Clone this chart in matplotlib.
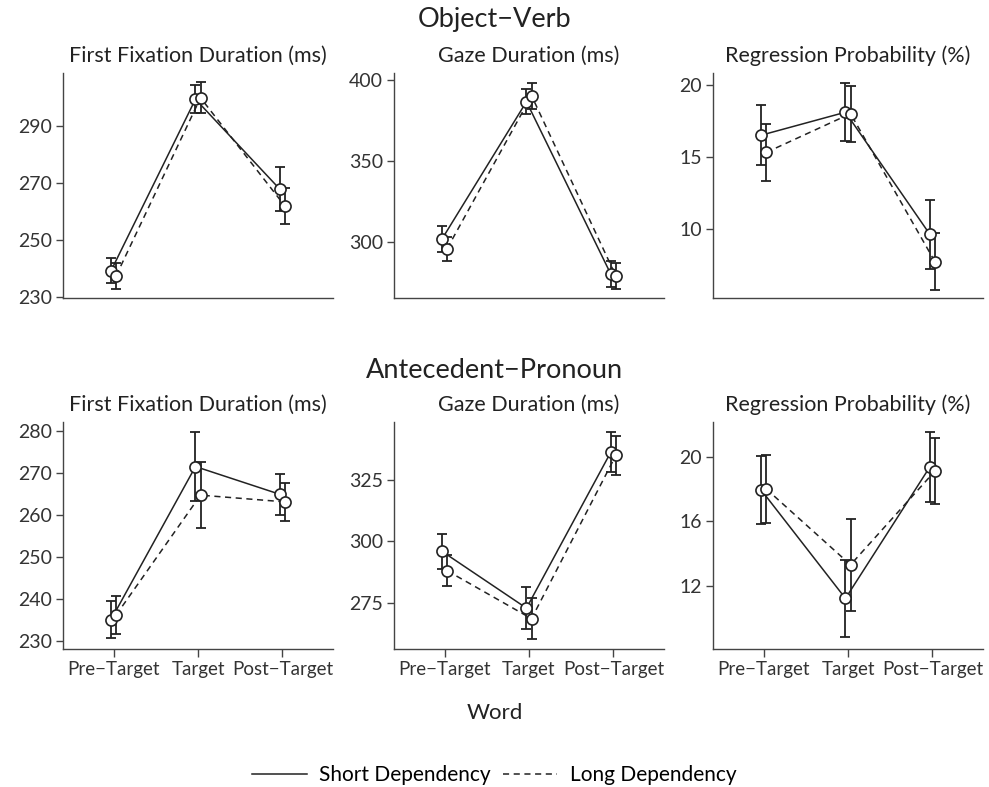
import numpy as np
import matplotlib
matplotlib.use("Agg")
import matplotlib.pyplot as plt
from matplotlib.lines import Line2D

plt.rcParams['font.family'] = ['Lato', 'DejaVu Sans']

words = ['Pre\u2212Target', 'Target', 'Post\u2212Target']
measures = ['First Fixation Duration (ms)', 'Gaze Duration (ms)', 'Regression Probability (%)']
groups = ['Object\u2212Verb', 'Antecedent\u2212Pronoun']

# Object-Verb: means and standard errors (short / long dependency)
ov_ffd_short = [239.1, 299.3, 267.7]
ov_ffd_short_se = [4.4, 5.0, 7.7]
ov_ffd_long = [237.3, 299.8, 261.8]
ov_ffd_long_se = [4.6, 5.4, 6.3]

ov_gd_short = [301.9, 386.6, 280.1]
ov_gd_short_se = [8.0, 7.7, 8.0]
ov_gd_long = [295.9, 390.3, 279.0]
ov_gd_long_se = [7.4, 8.0, 7.8]

ov_rp_short = [16.5, 18.1, 9.6]
ov_rp_short_se = [2.1, 2.0, 2.4]
ov_rp_long = [15.3, 18.0, 7.7]
ov_rp_long_se = [2.0, 1.95, 2.0]

# Antecedent-Pronoun
ap_ffd_short = [235.1, 271.5, 264.9]
ap_ffd_short_se = [4.5, 8.3, 4.9]
ap_ffd_long = [236.2, 264.7, 263.1]
ap_ffd_long_se = [4.5, 7.8, 4.6]

ap_gd_short = [295.9, 272.7, 336.5]
ap_gd_short_se = [7.1, 8.6, 8.2]
ap_gd_long = [288.0, 268.4, 335.2]
ap_gd_long_se = [6.4, 8.3, 7.9]

ap_rp_short = [17.94, 11.22, 19.36]
ap_rp_short_se = [2.1, 2.4, 2.15]
ap_rp_long = [18.0, 13.3, 19.1]
ap_rp_long_se = [2.1, 2.85, 2.05]

panels = [
    [(ov_ffd_short, ov_ffd_short_se, ov_ffd_long, ov_ffd_long_se),
     (ov_gd_short, ov_gd_short_se, ov_gd_long, ov_gd_long_se),
     (ov_rp_short, ov_rp_short_se, ov_rp_long, ov_rp_long_se)],
    [(ap_ffd_short, ap_ffd_short_se, ap_ffd_long, ap_ffd_long_se),
     (ap_gd_short, ap_gd_short_se, ap_gd_long, ap_gd_long_se),
     (ap_rp_short, ap_rp_short_se, ap_rp_long, ap_rp_long_se)],
]
yticks = [[[230, 250, 270, 290], [300, 350, 400], [10, 15, 20]],
          [[230, 240, 250, 260, 270, 280], [275, 300, 325], [12, 16, 20]]]
ylims = [[(229.5, 308.5), (265.4, 404.3), (5.17, 20.83)],
         [(228.1, 282.1), (256.0, 348.8), (8.09, 22.14)]]

W, H = 989, 787
fig = plt.figure(figsize=(W / 100, H / 100), dpi=100)

col_left = [63, 394, 713]
col_w = 270
row_top = [73, 422]
row_h = [225, 227]
dark = '#222222'
x = np.arange(1, 4)
dodge = 0.03

for r in range(2):
    for c in range(3):
        ax = fig.add_axes([col_left[c] / W, 1 - (row_top[r] + row_h[r]) / H,
                           col_w / W, row_h[r] / H])
        s, s_se, l, l_se = panels[r][c]
        ax.plot(x - dodge, s, color=dark, lw=1.1, ls='-', zorder=2)
        ax.plot(x + dodge, l, color=dark, lw=1.1, ls=(0, (4, 3)), zorder=2)
        ax.errorbar(x - dodge, s, yerr=s_se, fmt='none', ecolor=dark,
                    elinewidth=1.3, capsize=3.5, capthick=1.3, zorder=3)
        ax.errorbar(x + dodge, l, yerr=l_se, fmt='none', ecolor=dark,
                    elinewidth=1.3, capsize=3.5, capthick=1.3, zorder=3)
        ax.plot(x - dodge, s, 'o', ms=8, mfc='white', mec=dark, mew=1.2, zorder=4)
        ax.plot(x + dodge, l, 'o', ms=8, mfc='white', mec=dark, mew=1.2, zorder=4)
        ax.set_xlim(0.4, 3.6)
        ax.set_ylim(*ylims[r][c])
        ax.set_yticks(yticks[r][c])
        ax.spines['top'].set_visible(False)
        ax.spines['right'].set_visible(False)
        for sp in ['left', 'bottom']:
            ax.spines[sp].set_color('#444444')
            ax.spines[sp].set_linewidth(1.0)
        ax.tick_params(axis='y', labelsize=14, colors='#444444',
                       labelcolor='#333333', length=5, width=1.0, pad=3)
        if r == 0:
            ax.set_xticks([])
        else:
            ax.set_xticks(x)
            ax.set_xticklabels(words)
            ax.tick_params(axis='x', labelsize=13.5, colors='#444444',
                           labelcolor='#333333', length=6, width=1.0, pad=3)
        ax.set_title(measures[c], fontsize=15.5, color='#222222', pad=8)

fig.text(0.5, 1 - 19 / H, groups[0], ha='center', va='center', fontsize=19.5, color='#222222')
fig.text(0.5, 1 - 371 / H, groups[1], ha='center', va='center', fontsize=19.5, color='#222222')
fig.text(0.5, 1 - 713 / H, 'Word', ha='center', va='center', fontsize=16, color='#222222')

handles = [Line2D([], [], color=dark, lw=1.1, ls='-'),
           Line2D([], [], color=dark, lw=1.1, ls=(0, (4, 3)))]
fig.legend(handles, ['Short Dependency', 'Long Dependency'], loc='center',
           bbox_to_anchor=(0.5, 1 - 775 / H), ncol=2, frameon=False,
           fontsize=15, handlelength=2.6, columnspacing=0.6, handletextpad=0.6)

fig.savefig('out.png', dpi=100)
